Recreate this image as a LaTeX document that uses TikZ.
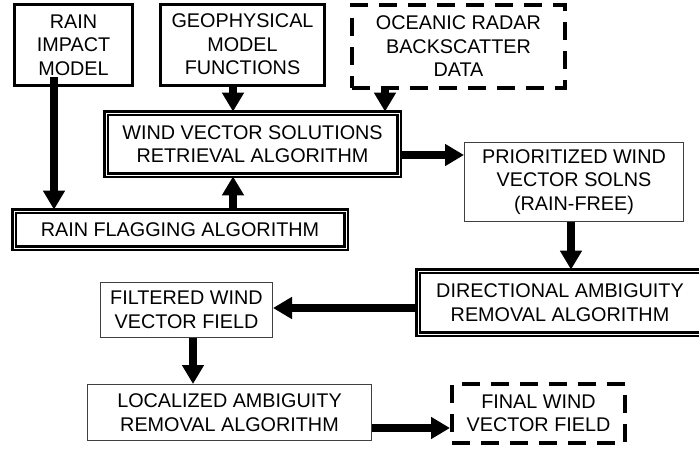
\documentclass[tikz,border=0pt]{standalone}
\usepackage{fontspec}
\setmainfont{Liberation Sans}
\usetikzlibrary{arrows.meta,calc}
\newcommand{\boxfont}{\fontsize{19.8pt}{23.5pt}\selectfont}
\begin{document}
\begin{tikzpicture}[x=1pt,y=-1pt,
  box/.style={draw, inner sep=0pt, align=center, font=\boxfont},
  heavybox/.style={box, line width=3pt},
  plainbox/.style={box, line width=1pt, draw=black!75},
  framebox/.style={box, line width=2.8pt, double=white, double distance=0.8pt},
  dashbox/.style={box, line width=4pt, dash pattern=on 18pt off 11pt},
  flow/.style={line width=7.5pt, -{Triangle[width=21pt,length=19pt]}}]

\useasboundingbox (0,0) rectangle (699,448);

% input boxes
\node[heavybox, minimum width=118pt, minimum height=81pt] (rim) at (73.5,45)
  {RAIN\\IMPACT\\MODEL};
\node[heavybox, minimum width=164pt, minimum height=81pt] (gmf) at (242.5,44.5)
  {GEOPHYSICAL\\MODEL\\FUNCTIONS};
\node[dashbox, minimum width=213pt, minimum height=83pt] (orb) at (458.5,46.5)
  {OCEANIC RADAR\\BACKSCATTER\\DATA};

% processing stages
\node[framebox, minimum width=293pt, minimum height=62pt] (wvs) at (252.5,144)
  {WIND VECTOR SOLUTIONS\\RETRIEVAL ALGORITHM};
\node[framebox, minimum width=332pt, minimum height=37pt] (rfa) at (180,229.5)
  {RAIN FLAGGING ALGORITHM};
\node[plainbox, minimum width=219pt, minimum height=79pt] (pws) at (574,182)
  {PRIORITIZED WIND\\VECTOR SOLNS\\(RAIN-FREE)};
\node[framebox, minimum width=284pt, minimum height=63pt] (dar) at (560,302.5)
  {DIRECTIONAL AMBIGUITY\\REMOVAL ALGORITHM};
\node[plainbox, minimum width=172pt, minimum height=55pt] (fwv) at (186.5,310)
  {FILTERED WIND\\VECTOR FIELD};
\node[plainbox, minimum width=284pt, minimum height=56pt] (lar) at (229.5,412.5)
  {LOCALIZED AMBIGUITY\\REMOVAL ALGORITHM};
\node[dashbox, minimum width=173pt, minimum height=59pt] (fin) at (538.5,413.5)
  {FINAL WIND\\VECTOR FIELD};

% guide positions for the connectors
\coordinate (rimtail) at (54,77);
\coordinate (colA) at (233,0);
\coordinate (colB) at (385,0);
\coordinate (colC) at (571,0);
\coordinate (colD) at (193,0);
\coordinate (rowA) at (0,155);
\coordinate (rowB) at (0,308);
\coordinate (rowC) at (0,428);

% connectors
\draw[flow] (rimtail) -- (rimtail |- rfa.north);
\draw[flow] (gmf.south -| colA) -- (wvs.north -| colA);
\draw[flow] (orb.south -| colB) -- (wvs.north -| colB);
\draw[flow] (rfa.north -| colA) -- (wvs.south -| colA);
\draw[flow] (wvs.east |- rowA) -- (pws.west |- rowA);
\draw[flow] (pws.south -| colC) -- (dar.north -| colC);
\draw[flow] (dar.west |- rowB) -- (fwv.east |- rowB);
\draw[flow] (fwv.south -| colD) -- (lar.north -| colD);
\draw[flow] (lar.east |- rowC) -- (fin.west |- rowC);
\end{tikzpicture}
\end{document}
